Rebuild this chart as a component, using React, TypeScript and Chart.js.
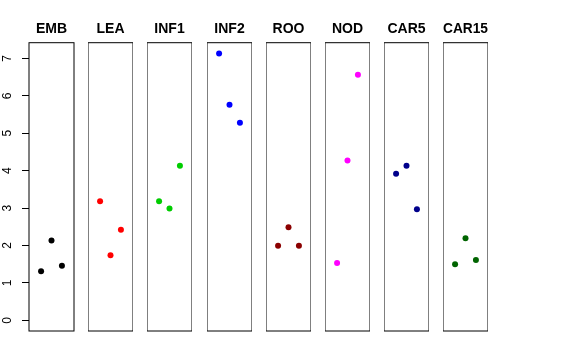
import React, { useEffect, useRef } from "react";
import { Chart, registerables } from "chart.js";

Chart.register(...registerables);

const categories = ["EMB", "LEA", "INF1", "INF2", "ROO", "NOD", "CAR5", "CAR15"];
const colors = ["#000000", "#FF0000", "#00CD00", "#0000FF", "#8B0000", "#FF00FF", "#00008B", "#006400"];
const replicates = [1, 2, 3];
const embValues = [1.31, 2.13, 1.46];
const leaValues = [3.18, 1.74, 2.42];
const inf1Values = [3.18, 2.99, 4.13];
const inf2Values = [7.13, 5.76, 5.28];
const rooValues = [1.99, 2.49, 1.99];
const nodValues = [1.53, 4.27, 6.56];
const car5Values = [3.92, 4.13, 2.97];
const car15Values = [1.50, 2.19, 1.61];
const seriesValues = [embValues, leaValues, inf1Values, inf2Values, rooValues, nodValues, car5Values, car15Values];
const yTicks = [0, 1, 2, 3, 4, 5, 6, 7];

const PANEL_LEFT0 = 29;
const PANEL_STEP = 59.19;
const PANEL_W = 45;
const AXIS_W = 29;

const boxPlugin = {
  id: "panelBox",
  afterDraw(chart: any) {
    const { ctx, chartArea } = chart;
    ctx.save();
    ctx.strokeStyle = "#000000";
    ctx.lineWidth = 1;
    ctx.strokeRect(chartArea.left, chartArea.top, chartArea.right - chartArea.left, chartArea.bottom - chartArea.top);
    ctx.restore();
  },
};

function Panel({ index }: { index: number }) {
  const ref = useRef<HTMLCanvasElement | null>(null);
  const withAxis = index === 0;
  const side = withAxis ? AXIS_W : 0;
  const left = Math.round(PANEL_LEFT0 + index * PANEL_STEP) - side;
  const width = PANEL_W + 2 * side;

  useEffect(() => {
    if (!ref.current) return;
    const data = seriesValues[index].map((v, i) => ({ x: replicates[i], y: v }));
    const scales: any = {
      x: {
        type: "linear",
        min: -0.16,
        max: 4.16,
        display: false,
      },
      y: {
        type: "linear",
        min: -0.286,
        max: 7.42,
        display: withAxis,
        border: { display: false },
        grid: {
          display: true,
          drawOnChartArea: false,
          drawTicks: true,
          tickLength: 7,
          tickColor: "#000000",
          lineWidth: 1,
        },
        ticks: {
          stepSize: 1,
          includeBounds: false,
          minRotation: 90,
          maxRotation: 90,
          crossAlign: "center",
          padding: 11,
          color: "#000000",
          font: { family: "'Liberation Sans', Arial, sans-serif", size: 12 },
        },
        afterBuildTicks: (scale: any) => {
          scale.ticks = yTicks.map((v) => ({ value: v }));
        },
        afterFit: (scale: any) => {
          scale.width = withAxis ? AXIS_W : 0;
        },
      },
    };
    if (withAxis) {
      scales.yBalance = {
        type: "linear",
        position: "right",
        min: -0.286,
        max: 7.42,
        display: true,
        border: { display: false },
        grid: { display: false },
        ticks: { display: false },
        afterFit: (scale: any) => {
          scale.width = AXIS_W;
        },
      };
    }
    const chart = new Chart(ref.current, {
      type: "scatter",
      data: {
        datasets: [
          {
            data,
            backgroundColor: colors[index],
            borderColor: colors[index],
            pointRadius: 3,
            pointBorderWidth: 0,
          },
        ],
      },
      options: {
        animation: false,
        responsive: false,
        maintainAspectRatio: false,
        layout: { autoPadding: false, padding: { left: 0, right: 0, top: 0, bottom: 29 } },
        plugins: {
          legend: { display: false },
          tooltip: { enabled: false },
          title: {
            display: true,
            text: categories[index],
            color: "#000000",
            font: { family: "'Liberation Sans', Arial, sans-serif", size: 14, weight: "bold" },
            padding: { top: 20.9, bottom: 5 },
          },
        },
        scales,
      },
      plugins: [boxPlugin],
    });
    return () => chart.destroy();
  }, [index]);

  return (
    <canvas
      ref={ref}
      width={width}
      height={360}
      style={{ position: "absolute", left, top: 0, width, height: 360 }}
    />
  );
}

export default function App() {
  return (
    <div style={{ position: "absolute", left: 0, top: 0, width: 576, height: 360, background: "#ffffff" }}>
      {categories.map((c, i) => (
        <Panel key={c} index={i} />
      ))}
    </div>
  );
}
